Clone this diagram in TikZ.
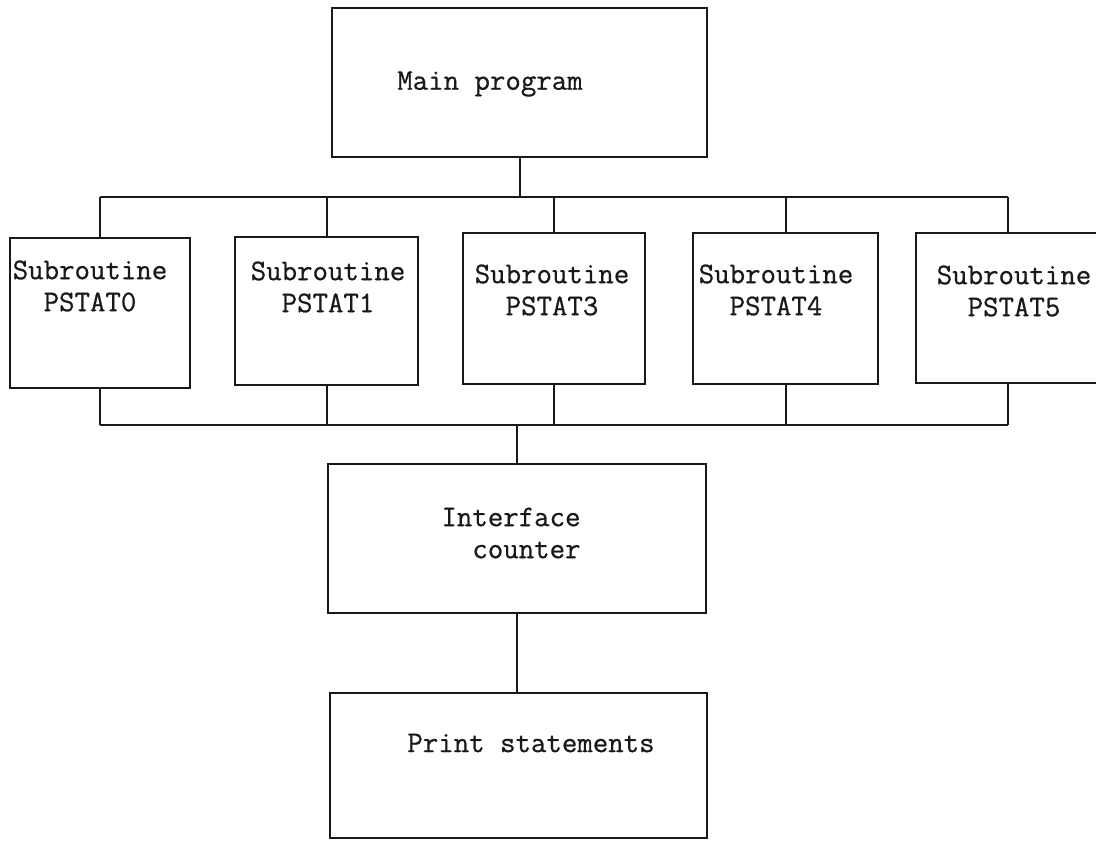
\documentclass[tikz,border=0pt]{standalone}
\usepackage{fontspec}
\newfontfamily\typew[FakeBold=0.7]{Latin Modern Mono}
\begin{document}
\begin{tikzpicture}[x=1pt,y=-1pt,
  box/.style={draw=black!90, line width=2.6pt, inner sep=0pt},
  conn/.style={draw=black!90, line width=2pt},
  lbl/.style={font=\fontsize{30}{32}\selectfont\typew, inner sep=0pt, anchor=center, text=black!90}]
\useasboundingbox (0,0) rectangle (1096,841);
\clip (0,0) rectangle (1096,841);
% boxes
\node[box, minimum width=375pt, minimum height=149pt] (main) at (519.5,82.5) {};
\node[box, minimum width=180pt, minimum height=150pt] (b0) at (100,313) {};
\node[box, minimum width=183pt, minimum height=148pt] (b1) at (326.5,311) {};
\node[box, minimum width=182pt, minimum height=151pt] (b2) at (554,308.5) {};
\node[box, minimum width=185pt, minimum height=151pt] (b3) at (785.5,308.5) {};
\node[box, minimum width=184pt, minimum height=150pt] (b4) at (1008,308) {};
\node[box, minimum width=378pt, minimum height=149pt] (iface) at (517,538.5) {};
\node[box, minimum width=377pt, minimum height=145pt] (print) at (518.5,765.5) {};
% texts
\node[lbl] (tmain) at (490,84) {Main program};
\node[lbl, align=center] (t0) at (90,286) {Subroutine\\PSTAT0};
\node[lbl, align=center] (t1) at (328,287) {Subroutine\\PSTAT1};
\node[lbl, align=center] (t2) at (552,290) {Subroutine\\PSTAT3};
\node[lbl, align=center] (t3) at (776,290) {Subroutine\\PSTAT4};
\node[lbl, align=center] (t4) at (1014,291) {Subroutine\\PSTAT5};
\node[lbl, align=left] (tif) at (511,533) {Interface\\\hphantom{In}counter};
\node[lbl] (tpr) at (531,743) {Print statements};
% buses
\coordinate (bt) at (0,197);
\coordinate (bb) at (0,425);
\draw[conn] (main.south) -- (main.south |- bt);
\draw[conn] (b0.north |- bt) -- (b4.north |- bt);
\draw[conn] (b0.south |- bb) -- (b4.south |- bb);
\foreach \b in {b0,b1,b2,b3,b4}{
  \draw[conn] (\b.north |- bt) -- (\b.north);
  \draw[conn] (\b.south) -- (\b.south |- bb);
}
\draw[conn] (iface.north |- bb) -- (iface.north);
\draw[conn] (iface.south) -- (iface.south |- print.north);
\end{tikzpicture}
\end{document}
